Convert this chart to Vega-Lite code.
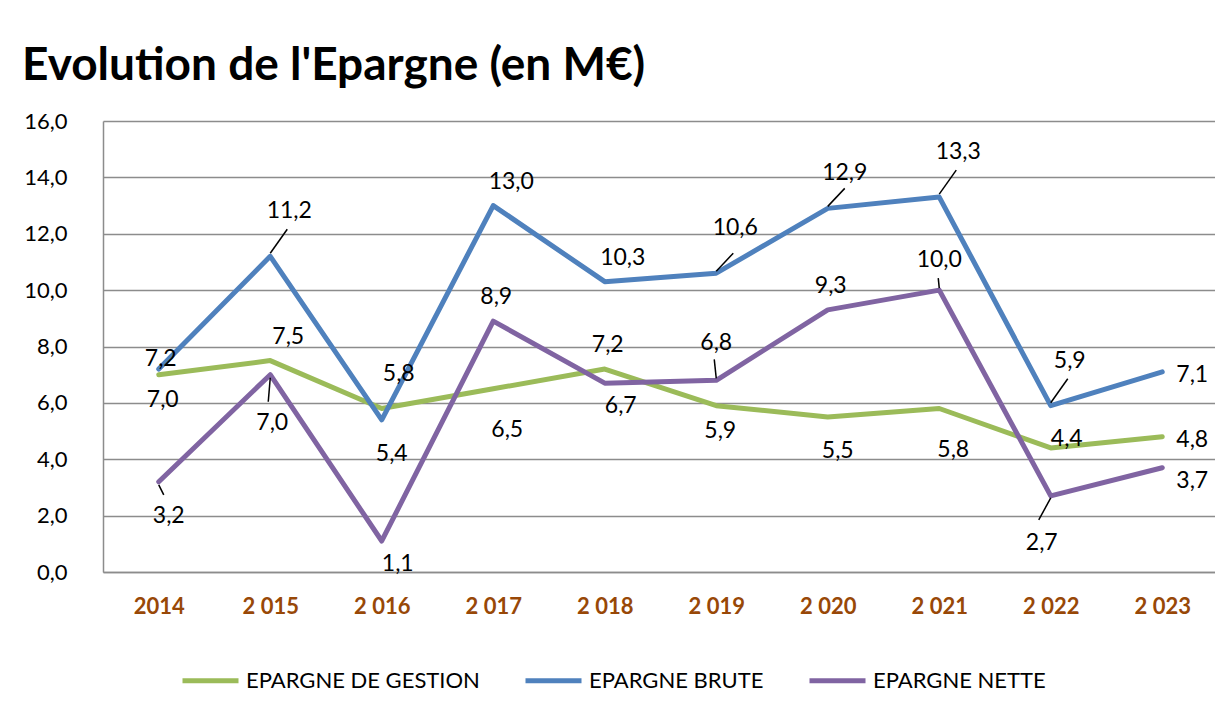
{
  "$schema": "https://vega.github.io/schema/vega-lite/v6.json",
  "autosize": "none",
  "width": 1115,
  "height": 451,
  "padding": {"left": 103, "top": 121, "right": 0, "bottom": 143},
  "background": "white",
  "config": {
    "locale": {"number": {"decimal": ",", "thousands": " ", "grouping": [3], "currency": ["", " €"]}},
    "font": "Lato",
    "view": {"stroke": null},
    "text": {"font": "Lato", "fontSize": 23, "align": "center", "baseline": "middle", "color": "black"}
  },
  "title": {"text": "Evolution de l'Epargne (en M€)", "anchor": "start", "frame": "group", "font": "Lato", "fontWeight": "bold", "fontSize": 46, "color": "black", "dx": -81, "offset": 20},
  "data": {"values": [
    {"annee": "2014", "serie": "EPARGNE DE GESTION", "valeur": 7.0},
    {"annee": "2 015", "serie": "EPARGNE DE GESTION", "valeur": 7.5},
    {"annee": "2 016", "serie": "EPARGNE DE GESTION", "valeur": 5.8},
    {"annee": "2 017", "serie": "EPARGNE DE GESTION", "valeur": 6.5},
    {"annee": "2 018", "serie": "EPARGNE DE GESTION", "valeur": 7.2},
    {"annee": "2 019", "serie": "EPARGNE DE GESTION", "valeur": 5.9},
    {"annee": "2 020", "serie": "EPARGNE DE GESTION", "valeur": 5.5},
    {"annee": "2 021", "serie": "EPARGNE DE GESTION", "valeur": 5.8},
    {"annee": "2 022", "serie": "EPARGNE DE GESTION", "valeur": 4.4},
    {"annee": "2 023", "serie": "EPARGNE DE GESTION", "valeur": 4.8},
    {"annee": "2014", "serie": "EPARGNE BRUTE", "valeur": 7.2},
    {"annee": "2 015", "serie": "EPARGNE BRUTE", "valeur": 11.2},
    {"annee": "2 016", "serie": "EPARGNE BRUTE", "valeur": 5.4},
    {"annee": "2 017", "serie": "EPARGNE BRUTE", "valeur": 13.0},
    {"annee": "2 018", "serie": "EPARGNE BRUTE", "valeur": 10.3},
    {"annee": "2 019", "serie": "EPARGNE BRUTE", "valeur": 10.6},
    {"annee": "2 020", "serie": "EPARGNE BRUTE", "valeur": 12.9},
    {"annee": "2 021", "serie": "EPARGNE BRUTE", "valeur": 13.3},
    {"annee": "2 022", "serie": "EPARGNE BRUTE", "valeur": 5.9},
    {"annee": "2 023", "serie": "EPARGNE BRUTE", "valeur": 7.1},
    {"annee": "2014", "serie": "EPARGNE NETTE", "valeur": 3.2},
    {"annee": "2 015", "serie": "EPARGNE NETTE", "valeur": 7.0},
    {"annee": "2 016", "serie": "EPARGNE NETTE", "valeur": 1.1},
    {"annee": "2 017", "serie": "EPARGNE NETTE", "valeur": 8.9},
    {"annee": "2 018", "serie": "EPARGNE NETTE", "valeur": 6.7},
    {"annee": "2 019", "serie": "EPARGNE NETTE", "valeur": 6.8},
    {"annee": "2 020", "serie": "EPARGNE NETTE", "valeur": 9.3},
    {"annee": "2 021", "serie": "EPARGNE NETTE", "valeur": 10.0},
    {"annee": "2 022", "serie": "EPARGNE NETTE", "valeur": 2.7},
    {"annee": "2 023", "serie": "EPARGNE NETTE", "valeur": 3.7}
  ]},
  "encoding": {
    "x": {"field": "annee", "type": "ordinal", "sort": null, "scale": {"type": "point", "padding": 0.5},
      "axis": {"title": null, "labelAngle": 0, "ticks": false, "grid": false, "domainColor": "#8c8c8c", "domainWidth": 1.5, "labelFont": "Lato", "labelFontWeight": "bold", "labelFontSize": 22, "labelColor": "#984807", "labelPadding": 24}},
    "y": {"field": "valeur", "type": "quantitative", "scale": {"domain": [0, 16], "nice": false},
      "axis": {"title": null, "values": [0, 2, 4, 6, 8, 10, 12, 14, 16], "format": ".1f", "ticks": false, "grid": true, "gridColor": "#8c8c8c", "gridWidth": 1.5, "domainColor": "#8c8c8c", "domainWidth": 1.5, "labelFont": "Lato", "labelFontSize": 22, "labelColor": "black", "labelPadding": 36}}
  },
  "layer": [
    {"mark": {"type": "line", "strokeWidth": 5, "strokeJoin": "round", "strokeCap": "round"},
     "encoding": {"color": {"field": "serie", "type": "nominal",
       "scale": {"domain": ["EPARGNE DE GESTION", "EPARGNE BRUTE", "EPARGNE NETTE"], "range": ["#9BBB59", "#4F81BD", "#8064A2"]},
       "legend": {"title": null, "orient": "none", "legendX": 77, "legendY": 529, "direction": "horizontal", "symbolType": "stroke", "symbolSize": 3136, "symbolStrokeWidth": 5, "labelFont": "Lato", "labelFontSize": 22, "labelColor": "black", "labelLimit": 0, "labelOffset": 5, "columnPadding": 35}}}},
    {"transform": [{"filter": "datum.serie == 'EPARGNE BRUTE' && indexof(['2 015','2 021','2 022'], datum.annee) >= 0"}],
     "mark": {"type": "rule", "color": "black", "strokeWidth": 1.5, "yOffset": -3, "x2Offset": 17, "y2Offset": -27},
     "encoding": {"x2": {"field": "annee"}, "y2": {"field": "valeur"}}},
    {"transform": [{"filter": "datum.serie == 'EPARGNE BRUTE' && indexof(['2 019','2 020'], datum.annee) >= 0"}],
     "mark": {"type": "rule", "color": "black", "strokeWidth": 1.5, "yOffset": -2, "x2Offset": 17, "y2Offset": -20},
     "encoding": {"x2": {"field": "annee"}, "y2": {"field": "valeur"}}},
    {"transform": [{"filter": "datum.serie == 'EPARGNE NETTE' && datum.annee == '2014'"}],
     "mark": {"type": "rule", "color": "black", "strokeWidth": 1.5, "yOffset": 3, "x2Offset": 5, "y2Offset": 13},
     "encoding": {"x2": {"field": "annee"}, "y2": {"field": "valeur"}}},
    {"transform": [{"filter": "datum.serie == 'EPARGNE NETTE' && datum.annee == '2 015'"}],
     "mark": {"type": "rule", "color": "black", "strokeWidth": 1.5, "yOffset": 3, "x2Offset": -2, "y2Offset": 27},
     "encoding": {"x2": {"field": "annee"}, "y2": {"field": "valeur"}}},
    {"transform": [{"filter": "datum.serie == 'EPARGNE NETTE' && datum.annee == '2 019'"}],
     "mark": {"type": "rule", "color": "black", "strokeWidth": 1.5, "xOffset": -2, "yOffset": -21, "y2Offset": -2},
     "encoding": {"x2": {"field": "annee"}, "y2": {"field": "valeur"}}},
    {"transform": [{"filter": "datum.serie == 'EPARGNE NETTE' && datum.annee == '2 021'"}],
     "mark": {"type": "rule", "color": "black", "strokeWidth": 1.5, "xOffset": -1, "yOffset": -12, "y2Offset": -2},
     "encoding": {"x2": {"field": "annee"}, "y2": {"field": "valeur"}}},
    {"transform": [{"filter": "datum.serie == 'EPARGNE NETTE' && datum.annee == '2 022'"}],
     "mark": {"type": "rule", "color": "black", "strokeWidth": 1.5, "yOffset": 2, "x2Offset": -12, "y2Offset": 24},
     "encoding": {"x2": {"field": "annee"}, "y2": {"field": "valeur"}}},
    {"transform": [{"filter": "datum.serie == 'EPARGNE BRUTE' && datum.annee == '2014'"}],
     "mark": {"type": "text", "dx": 2, "dy": -10}, "encoding": {"text": {"field": "valeur", "type": "quantitative", "format": ".1f"}}},
    {"transform": [{"filter": "(datum.serie == 'EPARGNE NETTE' && indexof(['2 017','2 020'], datum.annee) >= 0) || (datum.serie == 'EPARGNE DE GESTION' && datum.annee == '2 018')"}],
     "mark": {"type": "text", "dx": 3, "dy": -24}, "encoding": {"text": {"field": "valeur", "type": "quantitative", "format": ".1f"}}},
    {"transform": [{"filter": "datum.serie == 'EPARGNE NETTE' && datum.annee == '2 021'"}],
     "mark": {"type": "text", "dx": 0, "dy": -30}, "encoding": {"text": {"field": "valeur", "type": "quantitative", "format": ".1f"}}},
    {"transform": [{"filter": "(datum.serie == 'EPARGNE BRUTE' && indexof(['2 017','2 018'], datum.annee) >= 0) || (datum.serie == 'EPARGNE DE GESTION' && datum.annee == '2 015')"}],
     "mark": {"type": "text", "dx": 18, "dy": -24}, "encoding": {"text": {"field": "valeur", "type": "quantitative", "format": ".1f"}}},
    {"transform": [{"filter": "datum.serie == 'EPARGNE BRUTE' && indexof(['2 015','2 019','2 021','2 022'], datum.annee) >= 0"}],
     "mark": {"type": "text", "dx": 19, "dy": -45}, "encoding": {"text": {"field": "valeur", "type": "quantitative", "format": ".1f"}}},
    {"transform": [{"filter": "(datum.serie == 'EPARGNE BRUTE' && datum.annee == '2 020') || (datum.serie == 'EPARGNE DE GESTION' && datum.annee == '2 016')"}],
     "mark": {"type": "text", "dx": 17, "dy": -35}, "encoding": {"text": {"field": "valeur", "type": "quantitative", "format": ".1f"}}},
    {"transform": [{"filter": "datum.serie == 'EPARGNE NETTE' && datum.annee == '2 019'"}],
     "mark": {"type": "text", "dx": 0, "dy": -37}, "encoding": {"text": {"field": "valeur", "type": "quantitative", "format": ".1f"}}},
    {"transform": [{"filter": "datum.serie == 'EPARGNE DE GESTION' && indexof(['2014','2 019'], datum.annee) >= 0"}],
     "mark": {"type": "text", "dx": 4, "dy": 25}, "encoding": {"text": {"field": "valeur", "type": "quantitative", "format": ".1f"}}},
    {"transform": [{"filter": "datum.serie == 'EPARGNE NETTE' && indexof(['2 016','2 018'], datum.annee) >= 0"}],
     "mark": {"type": "text", "dx": 16, "dy": 23}, "encoding": {"text": {"field": "valeur", "type": "quantitative", "format": ".1f"}}},
    {"transform": [{"filter": "(datum.serie == 'EPARGNE BRUTE' && datum.annee == '2 016') || (datum.serie == 'EPARGNE NETTE' && datum.annee == '2014') || (datum.serie == 'EPARGNE DE GESTION' && datum.annee == '2 020')"}],
     "mark": {"type": "text", "dx": 10, "dy": 34}, "encoding": {"text": {"field": "valeur", "type": "quantitative", "format": ".1f"}}},
    {"transform": [{"filter": "datum.serie == 'EPARGNE DE GESTION' && indexof(['2 017','2 021'], datum.annee) >= 0"}],
     "mark": {"type": "text", "dx": 14, "dy": 41}, "encoding": {"text": {"field": "valeur", "type": "quantitative", "format": ".1f"}}},
    {"transform": [{"filter": "datum.serie == 'EPARGNE NETTE' && datum.annee == '2 015'"}],
     "mark": {"type": "text", "dx": 2, "dy": 48}, "encoding": {"text": {"field": "valeur", "type": "quantitative", "format": ".1f"}}},
    {"transform": [{"filter": "datum.serie == 'EPARGNE NETTE' && datum.annee == '2 022'"}],
     "mark": {"type": "text", "dx": -9, "dy": 47}, "encoding": {"text": {"field": "valeur", "type": "quantitative", "format": ".1f"}}},
    {"transform": [{"filter": "datum.serie != 'EPARGNE NETTE' && datum.annee == '2 023'"}],
     "mark": {"type": "text", "dx": 30, "dy": 3}, "encoding": {"text": {"field": "valeur", "type": "quantitative", "format": ".1f"}}},
    {"transform": [{"filter": "datum.serie == 'EPARGNE NETTE' && datum.annee == '2 023'"}],
     "mark": {"type": "text", "dx": 30, "dy": 13}, "encoding": {"text": {"field": "valeur", "type": "quantitative", "format": ".1f"}}},
    {"transform": [{"filter": "datum.serie == 'EPARGNE DE GESTION' && datum.annee == '2 022'"}],
     "mark": {"type": "text", "dx": 16, "dy": -9}, "encoding": {"text": {"field": "valeur", "type": "quantitative", "format": ".1f"}}}
  ]
}
